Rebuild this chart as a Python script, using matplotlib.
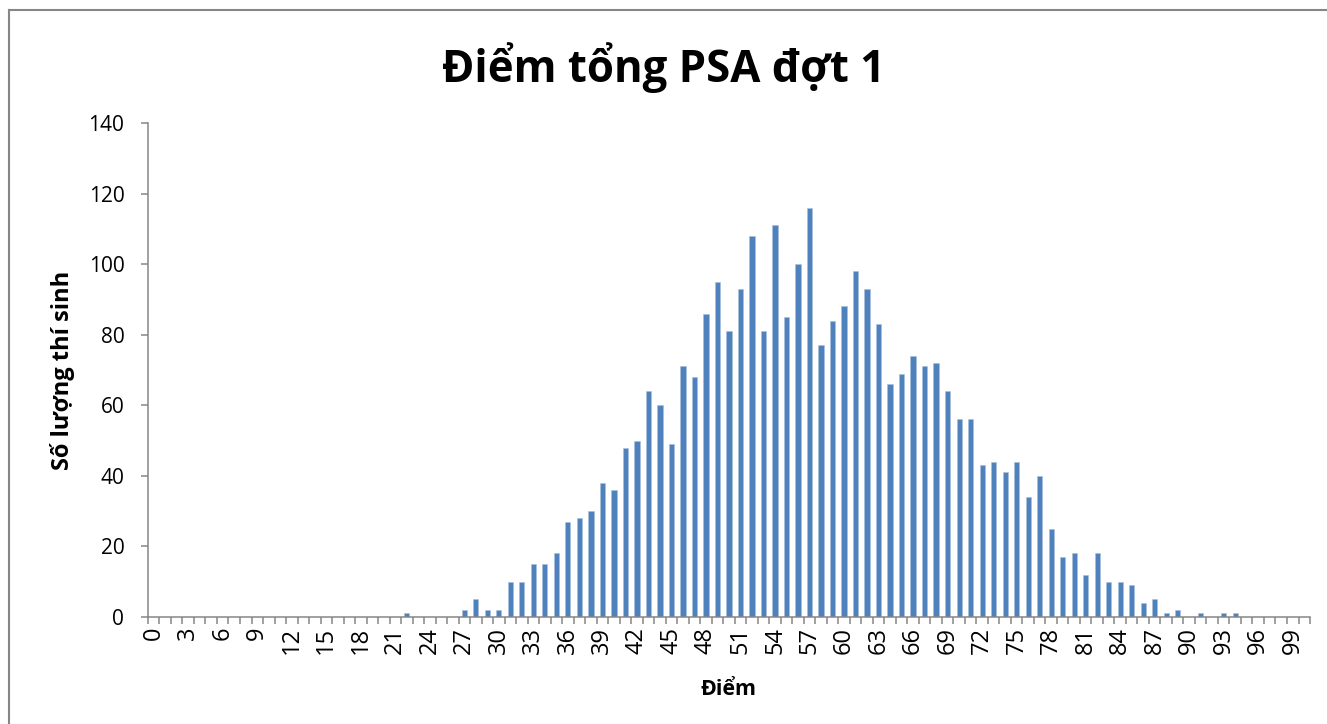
import numpy as np
import matplotlib
matplotlib.use('Agg')
import matplotlib.pyplot as plt
from matplotlib.lines import Line2D

plt.rcParams['font.family'] = ['Open Sans', 'DejaVu Sans']

# --- data: number of candidates per total score (0..100) ---
scores = list(range(0, 101))
counts = [0] * 101
known = {
    22: 1, 27: 2, 28: 5, 29: 2, 30: 2, 31: 10, 32: 10, 33: 15, 34: 15,
    35: 18, 36: 27, 37: 28, 38: 30, 39: 38, 40: 36, 41: 48, 42: 50,
    43: 64, 44: 60, 45: 49, 46: 71, 47: 68, 48: 86, 49: 95, 50: 81,
    51: 93, 52: 108, 53: 81, 54: 111, 55: 85, 56: 100, 57: 116, 58: 77,
    59: 84, 60: 88, 61: 98, 62: 93, 63: 83, 64: 66, 65: 69, 66: 74,
    67: 71, 68: 72, 69: 64, 70: 56, 71: 56, 72: 43, 73: 44, 74: 41,
    75: 44, 76: 34, 77: 40, 78: 25, 79: 17, 80: 18, 81: 12, 82: 18,
    83: 10, 84: 10, 85: 9, 86: 4, 87: 5, 88: 1, 89: 2, 91: 1, 93: 1,
    94: 1,
}
for s, c in known.items():
    counts[s] = c

tick_labels = [str(s) for s in scores[::3]]

title = 'Điểm tổng PSA đợt 1'
xlabel = 'Điểm'
ylabel = 'Số lượng thí sinh'

bar_color = '#4F81BD'
axis_color = '#868686'

fig = plt.figure(figsize=(13.27, 7.24), dpi=100)
ax = fig.add_axes([0.1115, 0.1478, 0.8757, 0.6823])

ax.bar(scores, counts, width=0.45, color=bar_color, edgecolor='#A7C0DE',
       linewidth=0.4)

ax.set_xlim(-0.5, 100.5)
ax.set_ylim(0, 140)
ax.set_yticks(range(0, 141, 20))

# category labels every 3rd score, ticks at category boundaries
ax.set_xticks(scores[::3])
ax.set_xticklabels(tick_labels, rotation=90, fontsize=17)
ax.set_xticks(np.arange(-0.5, 101, 1), minor=True)
ax.tick_params(axis='x', which='major', length=0, pad=7)
ax.tick_params(axis='x', which='minor', length=5, width=1.1,
               color=axis_color, direction='out')
ax.tick_params(axis='y', which='major', length=5, width=1.1,
               color=axis_color, labelsize=15, pad=12)

for side in ['top', 'right']:
    ax.spines[side].set_visible(False)
for side in ['left', 'bottom']:
    ax.spines[side].set_color(axis_color)
    ax.spines[side].set_linewidth(1.1)

ax.set_xlabel(xlabel, fontsize=15.5, fontweight='bold')
ax.set_ylabel(ylabel, fontsize=17, fontweight='bold')
ax.xaxis.set_label_coords(0.5, -0.125)
ax.yaxis.set_label_coords(-0.063, 0.5)

fig.text(0.5, 0.906, title, ha='center', va='center', fontsize=31.5,
         fontweight='bold')

# chart frame (left and top edges visible in the crop)
fig.add_artist(Line2D([0.0068, 0.0068], [0, 0.986], transform=fig.transFigure,
                      color=axis_color, linewidth=1.5))
fig.add_artist(Line2D([0.0068, 1.0], [0.986, 0.986], transform=fig.transFigure,
                      color=axis_color, linewidth=1.5))

fig.savefig('out.png', dpi=100)
